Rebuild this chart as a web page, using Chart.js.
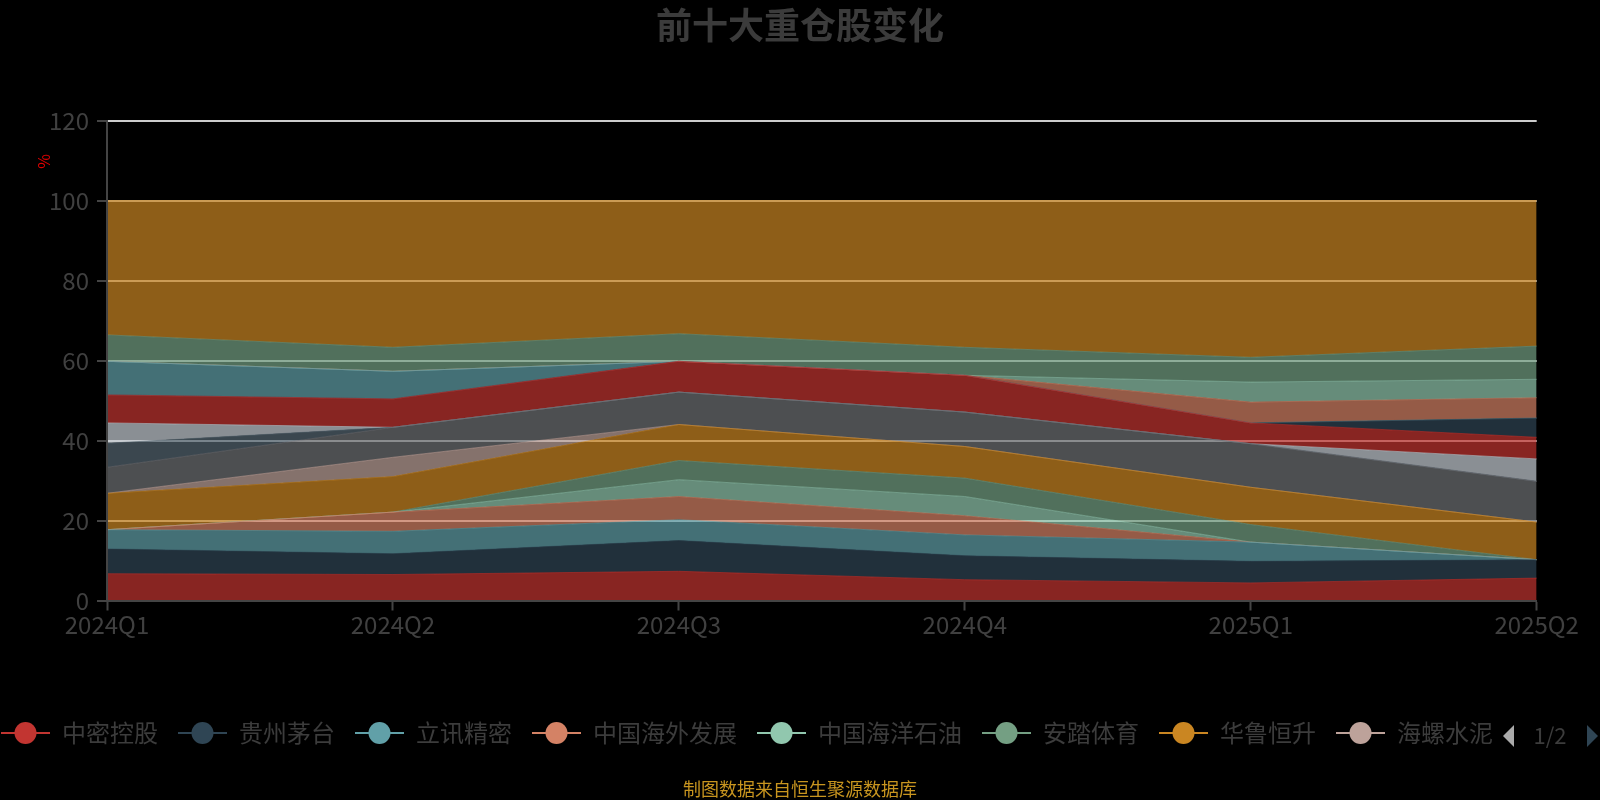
<!DOCTYPE html>
<html><head><meta charset="utf-8">
<script src="https://cdn.jsdelivr.net/npm/chart.js@4.4.1/dist/chart.umd.min.js"></script>
<style>
html,body{margin:0;padding:0;background:#000;overflow:hidden;width:1600px;height:800px;}
#wrap{position:absolute;left:-19px;top:0;width:1638px;height:800px;}
</style></head><body>
<div id="wrap"><canvas id="c" width="1638" height="800"></canvas></div>
<script>
// ---- data ----
const categories = ['2024Q1','2024Q2','2024Q3','2024Q4','2025Q1','2025Q2'];
const seriesNames = ['中密控股','贵州茅台','立讯精密','中国海外发展','中国海洋石油','安踏体育','华鲁恒升','海螺水泥',
  '股票9','股票10','股票11','股票12','股票13','股票14','股票15','股票16','股票17','其他'];
const s01 = [6.7, 6.5, 7.3, 5.2, 4.4, 5.6];
const s02 = [6.2, 5.2, 7.7, 6.0, 5.4, 4.6];
const s03 = [4.8, 5.6, 5.2, 5.2, 4.8, 0];
const s04 = [0, 4.8, 5.8, 4.8, 0, 0];
const s05 = [0, 0, 4.2, 4.8, 0, 0];
const s06 = [0, 0, 4.8, 4.6, 4.4, 0];
const s07 = [9.1, 8.9, 9.0, 7.9, 9.3, 9.4];
const s08 = [0, 4.8, 0, 0, 0, 0];
const s09 = [6.5, 7.5, 8.1, 8.6, 10.9, 10.2];
const s10 = [6.0, 0, 0, 0, 0, 0];
const s11 = [5.1, 0, 0, 0, 0, 5.6];
const s12 = [7.0, 7.1, 7.7, 9.2, 5.2, 5.4];
const s13 = [0, 0, 0, 0, 0, 4.8];
const s14 = [8.4, 6.9, 0, 0, 0, 0];
const s15 = [0, 0, 0, 0, 5.2, 5.1];
const s16 = [0, 0, 0, 0, 5.0, 4.6];
const s17 = [6.6, 6.0, 6.9, 7.0, 6.2, 8.3];
const s18 = [33.6, 36.7, 33.3, 36.7, 39.2, 36.4];
const seriesValues = [s01,s02,s03,s04,s05,s06,s07,s08,s09,s10,s11,s12,s13,s14,s15,s16,s17,s18];
const yTicks = [0,20,40,60,80,100,120];

// ---- styles ----
const palette = ['#c23531','#2f4554','#61a0a8','#d48265','#91c7ae','#749f83','#ca8622','#bda29a','#6e7074','#546570','#c4ccd3'];
const FONT = '"Noto Sans CJK SC", "Noto Sans", sans-serif';
Chart.defaults.font.family = FONT;
function rgba(hex, a){
  const n = parseInt(hex.slice(1),16);
  return `rgba(${(n>>16)&255},${(n>>8)&255},${n&255},${a})`;
}
function makeIcon(color){
  const c = document.createElement('canvas');
  c.width = 49; c.height = 26;
  const g = c.getContext('2d');
  g.strokeStyle = color; g.lineWidth = 2;
  g.beginPath(); g.moveTo(0,13); g.lineTo(49,13); g.stroke();
  g.fillStyle = color;
  g.beginPath(); g.arc(24.5,13,11,0,Math.PI*2); g.fill();
  return c;
}

const datasets = seriesValues.map((vals,i)=>{
  const col = palette[i % palette.length];
  return {
    label: seriesNames[i],
    data: vals,
    backgroundColor: rgba(col,0.7),
    borderColor: rgba(col,0.55),
    borderWidth: 1,
    fill: i===0 ? 'origin' : '-1',
    pointRadius: 0, pointHoverRadius: 0, tension: 0,
    _icon: makeIcon(col)
  };
});

const extras = {
  id: 'extras',
  afterDraw(chart){
    const {ctx, chartArea} = chart;
    ctx.save();
    // axis name
    ctx.translate(chartArea.left - 63, chartArea.top + 41);
    ctx.rotate(-Math.PI/2);
    ctx.fillStyle = '#e00000';
    ctx.font = '16px ' + FONT;
    ctx.textAlign = 'center'; ctx.textBaseline = 'middle';
    ctx.fillText('%', 0, 0);
    ctx.restore();
    // legend pager
    const off = 19, cy = 736;
    ctx.save();
    ctx.fillStyle = '#aaaaaa';
    ctx.beginPath(); ctx.moveTo(off+1503, cy); ctx.lineTo(off+1514, cy-11); ctx.lineTo(off+1514, cy+11); ctx.closePath(); ctx.fill();
    ctx.fillStyle = '#2f4554';
    ctx.beginPath(); ctx.moveTo(off+1598, cy); ctx.lineTo(off+1587, cy-11); ctx.lineTo(off+1587, cy+11); ctx.closePath(); ctx.fill();
    ctx.fillStyle = '#3c3c3c';
    ctx.font = '22px ' + FONT;
    ctx.textAlign = 'center'; ctx.textBaseline = 'middle';
    ctx.fillText('1/2', off+1550, cy);
    ctx.restore();
  }
};

new Chart(document.getElementById('c'), {
  type: 'line',
  data: { labels: categories, datasets },
  plugins: [extras],
  options: {
    responsive: false, animation: false, devicePixelRatio: 1,
    layout: { padding: 0 },
    interaction: { mode: 'nearest', intersect: true },
    plugins: {
      tooltip: { enabled: false },
      title: { display: true, text: '前十大重仓股变化', color: '#3b3b3b',
        font: { size: 36, weight: 'bold', family: FONT }, padding: { top: 3.4, bottom: 73.9 } },
      subtitle: { display: true, position: 'bottom', text: '制图数据来自恒生聚源数据库', color: '#c8951f',
        font: { size: 18, family: FONT }, padding: { top: 23.4, bottom: 0 } },
      legend: {
        position: 'bottom', align: 'start',
        labels: {
          usePointStyle: true, pointStyleWidth: 49, padding: 20,
          color: '#3c3c3c', font: { size: 24, family: FONT },
          generateLabels(chart){
            return chart.data.datasets.slice(0,8).map((ds,i)=>({
              text: ds.label, pointStyle: ds._icon, fontColor: '#3c3c3c',
              datasetIndex: i, hidden: false, lineWidth: 0,
              strokeStyle: 'transparent', fillStyle: 'transparent'
            }));
          }
        }
      }
    },
    scales: {
      x: {
        grid: { display: true, drawOnChartArea: false, drawTicks: true, tickLength: 10, tickColor: '#444', tickWidth: 2 },
        border: { display: true, color: '#444', width: 2, z: 1 },
        ticks: { color: '#404040', font: { size: 24, family: FONT }, padding: 0, maxRotation: 0, autoSkip: false },
        afterFit(s){ s.height = 100.5; s.paddingRight = 82.3; }
      },
      y: {
        stacked: true, min: 0, max: 120,
        afterBuildTicks(s){ s.ticks = yTicks.map(v=>({value:v})); },
        grid: { color: '#cccccc', lineWidth: 2, drawTicks: true, tickLength: 10, tickColor: '#444', tickWidth: 2 },
        border: { display: true, color: '#444', width: 2, z: 1 },
        ticks: { color: '#404040', font: { size: 24, family: FONT }, padding: 8 },
        afterFit(s){ s.width = 126; }
      }
    }
  }
});
</script>
</body></html>
